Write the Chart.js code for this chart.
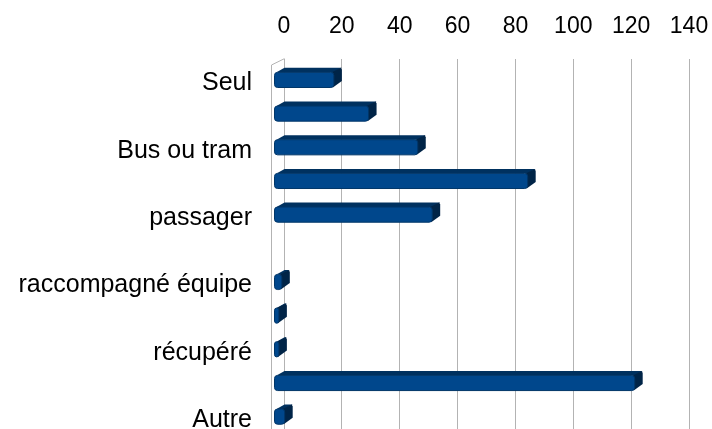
<!DOCTYPE html>
<html>
<head>
<meta charset="utf-8">
<script src="https://cdn.jsdelivr.net/npm/chart.js@4.4.1/dist/chart.umd.min.js"></script>
<style>
  html, body { margin: 0; padding: 0; background: #fff; overflow: hidden; }
  #wrap { width: 712px; height: 429px; }
</style>
</head>
<body>
<div id="wrap"><canvas id="c" width="712" height="429"></canvas></div>
<script>
const categories = ['Seul', '', 'Bus ou tram', '', 'passager', '', 'raccompagné équipe', '', 'récupéré', '', 'Autre'];
const values = [20, 32, 49, 87, 54, 0, 2, 1, 1, 124, 3];
const xTicks = { min: 0, max: 140, step: 20 };

const FONT = "'Liberation Sans', Arial, sans-serif";

const bar3d = {
  id: 'bar3d',
  beforeDatasetsDraw(chart) {
    const ctx = chart.ctx, a = chart.chartArea;
    ctx.save();
    ctx.strokeStyle = '#b3b3b3';
    ctx.lineWidth = 1;
    ctx.beginPath();
    ctx.moveTo(a.left - 13 + 0.5, a.bottom);
    ctx.lineTo(a.left - 13 + 0.5, a.top + 6.4);
    ctx.lineTo(a.left + 0.5, a.top);
    ctx.stroke();
    ctx.restore();
  },
  afterDatasetsDraw(chart) {
    const ctx = chart.ctx;
    const meta = chart.getDatasetMeta(0);
    const DX = 8, DY = 4.5;
    ctx.save();
    meta.data.forEach((el, i) => {
      if (!values[i]) return;
      const p = el.getProps(['x', 'y', 'base', 'height'], true);
      const fl = p.base - 10, fr = p.x - DX;
      const ft = p.y - p.height / 2 + DY, fb = p.y + p.height / 2 + DY;
      // top face
      ctx.fillStyle = '#00315f';
      ctx.beginPath();
      ctx.moveTo(fl + 2, ft);
      ctx.lineTo(fl + 2 + DX, ft - DY);
      ctx.lineTo(fr + DX, ft - DY);
      ctx.lineTo(fr, ft);
      ctx.closePath();
      ctx.fill();
      // side face
      ctx.fillStyle = '#002447';
      ctx.beginPath();
      ctx.moveTo(fr - 2, ft);
      ctx.lineTo(fr + DX - 1, ft - DY);
      ctx.lineTo(fr + DX, ft - DY + 2);
      ctx.lineTo(fr + DX, fb - DY - 2);
      ctx.lineTo(fr - 1, fb);
      ctx.closePath();
      ctx.fill();
      // front face
      const w = Math.max(fr - fl, 3);
      ctx.fillStyle = '#00478c';
      ctx.strokeStyle = '#003668';
      ctx.lineWidth = 1;
      ctx.beginPath();
      ctx.roundRect(fl, ft, w, fb - ft, 3);
      ctx.fill();
      ctx.stroke();
    });
    ctx.restore();
  }
};

new Chart(document.getElementById('c'), {
  type: 'bar',
  data: {
    labels: categories,
    datasets: [{
      data: values,
      backgroundColor: 'rgba(0,0,0,0)',
      borderWidth: 0,
      barPercentage: 0.45,
      categoryPercentage: 1
    }]
  },
  options: {
    indexAxis: 'y',
    responsive: false,
    animation: false,
    devicePixelRatio: 1,
    layout: { padding: { top: 0, right: 23, bottom: 0, left: 0 } },
    plugins: { legend: { display: false }, tooltip: { enabled: false } },
    scales: {
      x: {
        type: 'linear',
        position: 'top',
        min: xTicks.min,
        max: xTicks.max,
        ticks: { stepSize: xTicks.step, color: '#000', font: { family: FONT, size: 23 }, padding: 18 },
        grid: { color: '#b3b3b3', drawTicks: false, lineWidth: 1 },
        border: { display: false },
        afterFit(s) { s.height = 58.6; s.paddingLeft = 0; s.paddingRight = 0; }
      },
      y: {
        type: 'category',
        offset: true,
        grid: { display: false },
        border: { display: false },
        ticks: { color: '#000', font: { family: FONT, size: 25 }, padding: 24, autoSkip: false, labelOffset: 8 },
        afterFit(s) { s.width = 284; s.paddingTop = 0; s.paddingBottom = 0; }
      }
    }
  },
  plugins: [bar3d]
});
</script>
</body>
</html>
